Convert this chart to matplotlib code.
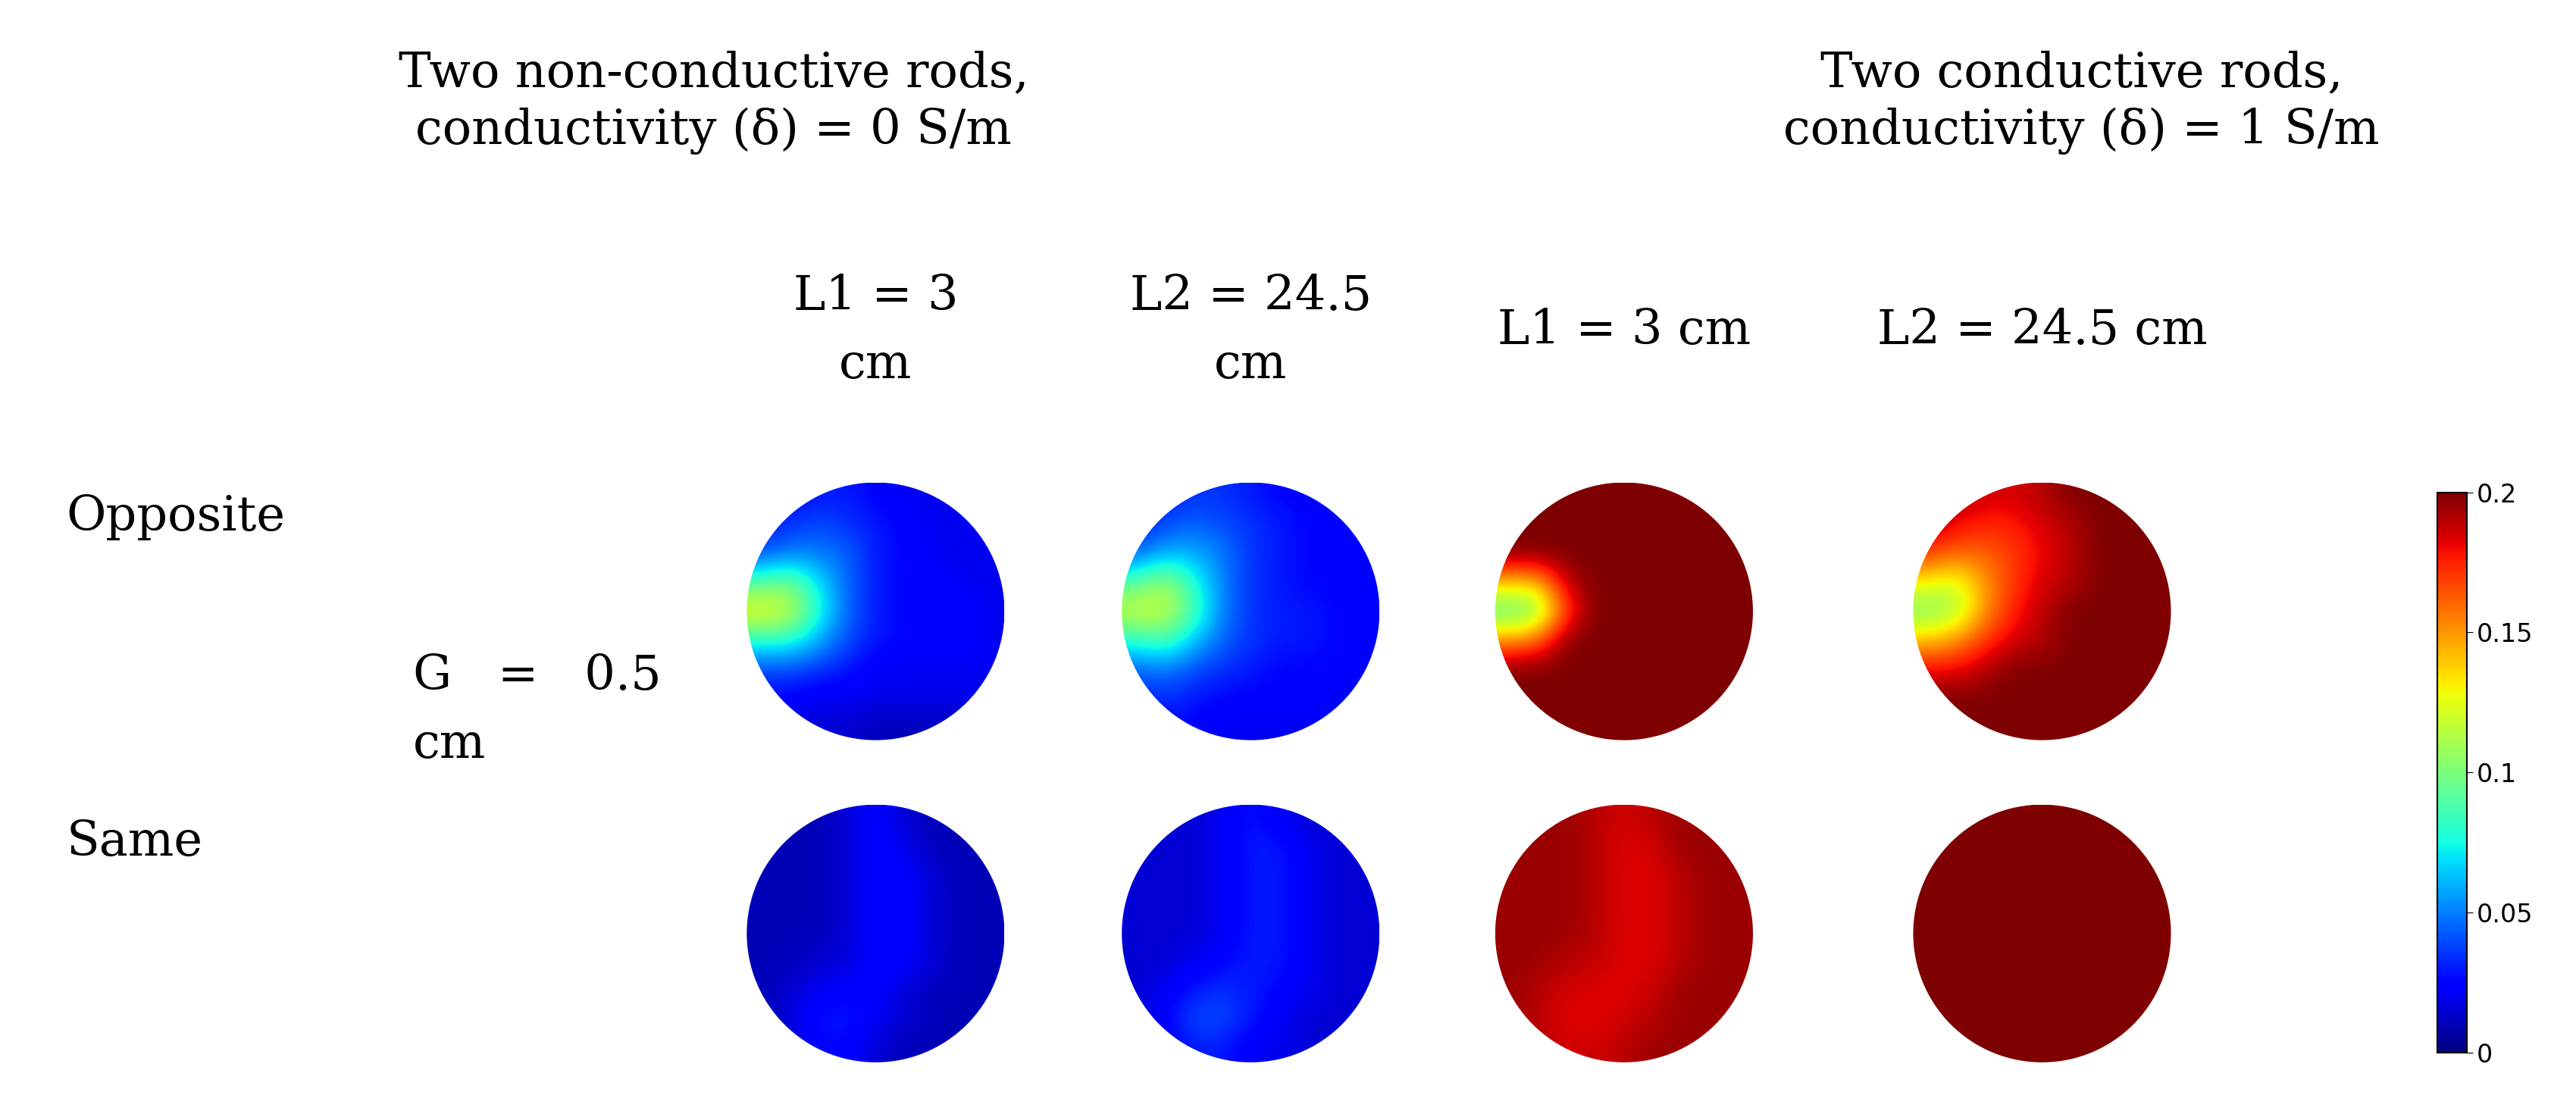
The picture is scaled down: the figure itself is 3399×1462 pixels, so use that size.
import numpy as np
import matplotlib
matplotlib.use("Agg")
import matplotlib.pyplot as plt
from matplotlib.patches import Circle

titles = ["Two non-conductive rods,\nconductivity (δ) = 0 S/m",
          "Two conductive rods,\nconductivity (δ) = 1 S/m"]
col_labels = ["L1 = 3\ncm", "L2 = 24.5\ncm", "L1 = 3 cm", "L2 = 24.5 cm"]
row_labels = ["Opposite", "Same"]
gap_label = "G   =   0.5\ncm"
cbar_ticks = [0, 0.05, 0.1, 0.15, 0.2]
cbar_ticklabels = ["0", "0.05", "0.1", "0.15", "0.2"]

opp_nc_L1 = [
    [.02, .025, .03, .03, .025, .02, .02, .02, .02],
    [.03, .035, .04, .035, .03, .025, .02, .02, .02],
    [.04, .05, .05, .045, .03, .025, .02, .02, .02],
    [.09, .10, .07, .045, .03, .025, .025, .02, .02],
    [.13, .12, .08, .045, .03, .025, .025, .025, .02],
    [.08, .08, .06, .04, .03, .025, .025, .025, .02],
    [.04, .04, .035, .03, .02, .02, .02, .02, .02],
    [.025, .025, .02, .02, .02, .02, .02, .02, .02],
    [.015, .015, .015, .015, .01, .01, .01, .01, .01]]
opp_nc_L2 = [
    [.025, .03, .035, .035, .03, .025, .025, .025, .025],
    [.03, .04, .045, .04, .035, .03, .025, .025, .025],
    [.045, .06, .06, .05, .035, .03, .025, .025, .025],
    [.09, .11, .08, .05, .035, .03, .025, .025, .025],
    [.12, .12, .09, .05, .035, .03, .03, .025, .025],
    [.08, .09, .065, .045, .035, .03, .03, .025, .025],
    [.045, .05, .04, .035, .03, .025, .025, .025, .025],
    [.03, .035, .03, .025, .025, .025, .025, .025, .02],
    [.02, .025, .025, .02, .02, .02, .02, .02, .02]]
opp_c_L1 = [
    [.20, .20, .20, .20, .20, .20, .20, .20, .20],
    [.20, .20, .20, .20, .20, .20, .20, .20, .20],
    [.20, .20, .20, .20, .20, .20, .20, .20, .20],
    [.14, .14, .19, .20, .20, .20, .20, .20, .20],
    [.09, .10, .17, .20, .20, .20, .20, .20, .20],
    [.15, .16, .20, .20, .20, .20, .20, .20, .20],
    [.20, .20, .20, .20, .20, .20, .20, .20, .20],
    [.20, .20, .20, .20, .20, .20, .20, .20, .20],
    [.20, .20, .20, .20, .20, .20, .20, .20, .20]]
opp_c_L2 = [
    [.20, .19, .185, .185, .19, .20, .20, .20, .20],
    [.19, .18, .175, .175, .185, .19, .20, .20, .20],
    [.17, .16, .16, .17, .18, .19, .20, .20, .20],
    [.13, .12, .15, .17, .185, .19, .20, .20, .20],
    [.10, .11, .15, .175, .19, .20, .20, .20, .20],
    [.14, .15, .17, .185, .19, .20, .20, .20, .20],
    [.18, .18, .19, .20, .20, .20, .20, .20, .20],
    [.20, .20, .20, .20, .20, .20, .20, .20, .20],
    [.20, .20, .20, .20, .20, .20, .20, .20, .20]]
same_nc_L1 = [
    [.01, .01, .01, .015, .025, .015, .01, .01, .01],
    [.01, .01, .01, .015, .025, .02, .01, .01, .01],
    [.01, .01, .01, .015, .025, .025, .015, .01, .01],
    [.01, .01, .01, .015, .025, .025, .015, .01, .01],
    [.01, .01, .01, .015, .025, .025, .015, .01, .01],
    [.01, .01, .015, .015, .025, .025, .015, .01, .01],
    [.01, .015, .02, .025, .025, .015, .01, .01, .01],
    [.01, .015, .03, .03, .02, .015, .01, .01, .01],
    [.01, .015, .025, .025, .015, .01, .01, .01, .01]]
same_nc_L2 = [
    [.015, .015, .015, .02, .03, .02, .015, .015, .015],
    [.015, .015, .015, .02, .03, .03, .02, .015, .015],
    [.015, .015, .015, .02, .03, .03, .02, .015, .015],
    [.015, .015, .015, .02, .03, .03, .02, .015, .015],
    [.015, .015, .015, .02, .03, .03, .02, .015, .015],
    [.015, .015, .02, .025, .03, .03, .02, .015, .015],
    [.015, .02, .03, .035, .03, .025, .02, .015, .015],
    [.015, .025, .04, .04, .03, .02, .015, .015, .015],
    [.015, .02, .03, .03, .02, .02, .015, .015, .015]]
same_c_L1 = [
    [.195, .195, .195, .19, .185, .19, .195, .195, .195],
    [.195, .195, .195, .19, .183, .185, .195, .195, .195],
    [.195, .195, .195, .19, .183, .183, .19, .195, .195],
    [.195, .195, .195, .19, .183, .183, .19, .195, .195],
    [.195, .195, .195, .19, .183, .183, .19, .195, .195],
    [.195, .195, .19, .188, .183, .183, .19, .195, .195],
    [.195, .19, .185, .183, .183, .188, .195, .195, .195],
    [.195, .19, .182, .182, .186, .19, .195, .195, .195],
    [.195, .19, .186, .186, .19, .195, .195, .195, .195]]
same_c_L2 = [[.20] * 9 for _ in range(9)]

maps = [[opp_nc_L1, opp_nc_L2, opp_c_L1, opp_c_L2],
        [same_nc_L1, same_nc_L2, same_c_L1, same_c_L2]]

W, H = 3399, 1462
fig = plt.figure(figsize=(W / 100, H / 100), dpi=100)
serif = "DejaVu Serif"

def fx(px): return px / W
def fy(py): return 1 - py / H

s = 2.18
fs = 46
fig.text(fx(432 * s), fy(62 * s), titles[0], ha="center", va="center",
         fontsize=fs, family=serif, linespacing=1.3)
fig.text(fx(1260 * s), fy(62 * s), titles[1], ha="center", va="center",
         fontsize=fs, family=serif, linespacing=1.3)
col_x = [530, 757, 983, 1236]
for x, lab in zip(col_x, col_labels):
    fig.text(fx(x * s), fy(200 * s), lab, ha="center", va="center",
             fontsize=fs, family=serif, linespacing=1.6)
row_y = [313, 510]
for y, lab in zip(row_y, row_labels):
    fig.text(fx(40 * s), fy(y * s), lab, ha="left", va="center",
             fontsize=fs, family=serif)
fig.text(fx(250 * s), fy(430 * s), gap_label, ha="left", va="center",
         fontsize=fs, family=serif, linespacing=1.6)

cy = [370, 565]
r = 78
for i in range(2):
    for j in range(4):
        ax = fig.add_axes([fx((col_x[j] - r) * s), fy((cy[i] + r) * s),
                           2 * r * s / W, 2 * r * s / H])
        im = ax.imshow(np.array(maps[i][j]), cmap="jet", vmin=0, vmax=0.2,
                       extent=(-1, 1, -1, 1), interpolation="bicubic")
        circ = Circle((0, 0), 1, transform=ax.transData)
        im.set_clip_path(circ)
        ax.set_xlim(-1, 1); ax.set_ylim(-1, 1)
        ax.axis("off")

cax = fig.add_axes([fx(1475 * s), fy(637 * s), 18 * s / W, 339 * s / H])
cb = fig.colorbar(im, cax=cax, ticks=cbar_ticks)
cb.ax.set_yticklabels(cbar_ticklabels)
cb.ax.tick_params(labelsize=24, length=6)
cb.outline.set_linewidth(1.5)

fig.savefig("out.png", dpi=100)
